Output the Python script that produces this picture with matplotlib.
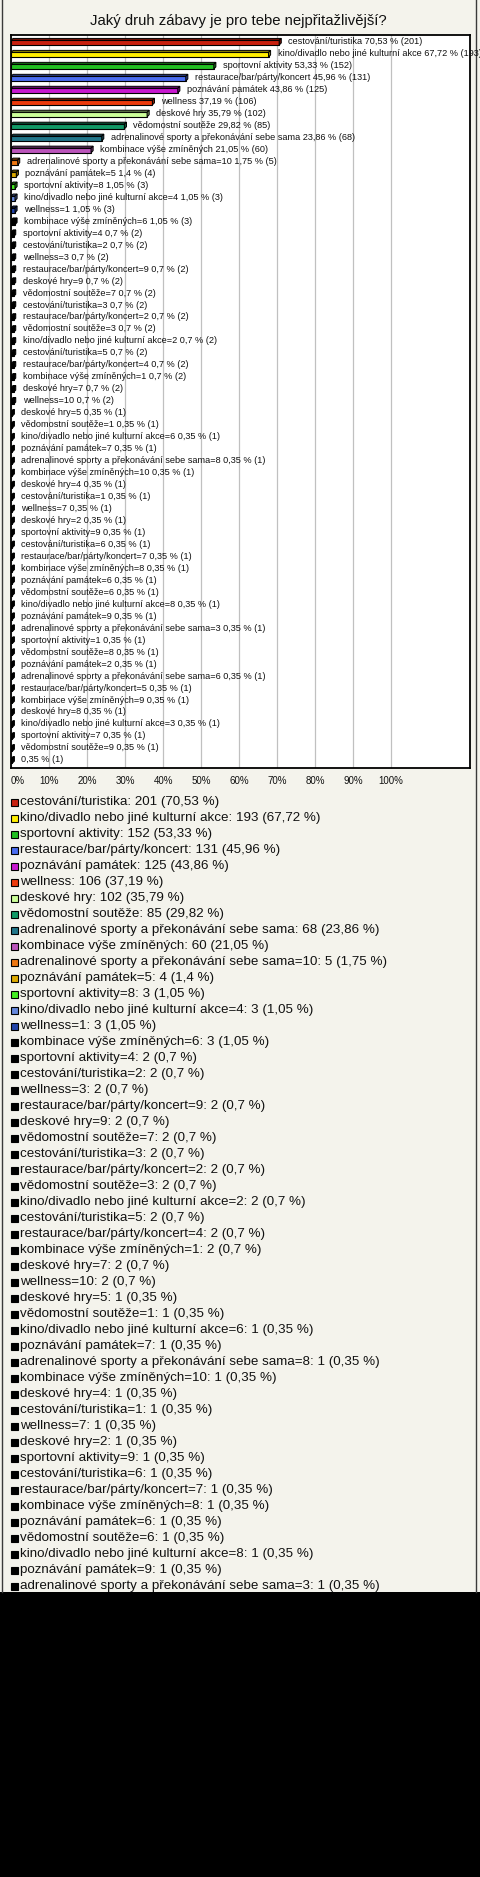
import matplotlib
matplotlib.use("Agg")
import matplotlib.pyplot as plt
from matplotlib.patches import Rectangle, Polygon
from matplotlib.colors import to_rgb

plt.rcParams['font.family'] = ['Liberation Sans', 'DejaVu Sans']

title = "Jaký druh zábavy je pro tebe nejpřitažlivější?"

names = [
    "cestování/turistika", "kino/divadlo nebo jiné kulturní akce", "sportovní aktivity",
    "restaurace/bar/párty/koncert", "poznávání památek", "wellness", "deskové hry",
    "vědomostní soutěže", "adrenalinové sporty a překonávání sebe sama", "kombinace výše zmíněných",
    "adrenalinové sporty a překonávání sebe sama=10", "poznávání památek=5", "sportovní aktivity=8",
    "kino/divadlo nebo jiné kulturní akce=4", "wellness=1", "kombinace výše zmíněných=6",
    "sportovní aktivity=4", "cestování/turistika=2", "wellness=3", "restaurace/bar/párty/koncert=9",
    "deskové hry=9", "vědomostní soutěže=7", "cestování/turistika=3", "restaurace/bar/párty/koncert=2",
    "vědomostní soutěže=3", "kino/divadlo nebo jiné kulturní akce=2", "cestování/turistika=5",
    "restaurace/bar/párty/koncert=4", "kombinace výše zmíněných=1", "deskové hry=7", "wellness=10",
    "deskové hry=5", "vědomostní soutěže=1", "kino/divadlo nebo jiné kulturní akce=6",
    "poznávání památek=7", "adrenalinové sporty a překonávání sebe sama=8", "kombinace výše zmíněných=10",
    "deskové hry=4", "cestování/turistika=1", "wellness=7", "deskové hry=2", "sportovní aktivity=9",
    "cestování/turistika=6", "restaurace/bar/párty/koncert=7", "kombinace výše zmíněných=8",
    "poznávání památek=6", "vědomostní soutěže=6", "kino/divadlo nebo jiné kulturní akce=8",
    "poznávání památek=9", "adrenalinové sporty a překonávání sebe sama=3", "sportovní aktivity=1",
    "vědomostní soutěže=8", "poznávání památek=2", "adrenalinové sporty a překonávání sebe sama=6",
    "restaurace/bar/párty/koncert=5", "kombinace výše zmíněných=9", "deskové hry=8",
    "kino/divadlo nebo jiné kulturní akce=3", "sportovní aktivity=7", "vědomostní soutěže=9", "",
]

counts = [201, 193, 152, 131, 125, 106, 102, 85, 68, 60, 5, 4, 3, 3, 3, 3] + [2] * 15 + [1] * 30

percents = [70.53, 67.72, 53.33, 45.96, 43.86, 37.19, 35.79, 29.82, 23.86, 21.05,
            1.75, 1.4, 1.05, 1.05, 1.05, 1.05] + [0.7] * 15 + [0.35] * 30

colors = ["#c8200f", "#ffee00", "#22c022", "#4a6cf0", "#c818d0", "#ec3a0c", "#ccff99",
          "#119966", "#21768a", "#bb55bb", "#ee7711", "#ddaa00", "#44ee22", "#6688dd",
          "#2244aa"] + ["#000000"] * 46

tick_values = list(range(0, 101, 10))
tick_labels = [f"{t}%" for t in tick_values]

n_legend = 50

W, H = 480, 1877
def fx(px):
    return px / W
def fy(py):
    return 1 - py / H

fig = plt.figure(figsize=(W / 100, H / 100), dpi=100, facecolor="black")

# cream panel
fig.patches.append(Rectangle((0, fy(1592)), 1, 1592 / H, transform=fig.transFigure,
                             facecolor="#f4f3ec", edgecolor="none", zorder=-10))
for xp in (1.5, 475.5):
    fig.add_artist(plt.Line2D([fx(xp), fx(xp)], [fy(1592), 1], transform=fig.transFigure,
                              color="#3a3a3a", lw=1.0, zorder=-5))

fig.text(fx(238), fy(21), title, ha="center", va="center", fontsize=10.7, color="#111111")

# main chart
ax = fig.add_axes([fx(11), fy(768), fx(470) - fx(11), (768 - 35) / H])
ax.set_facecolor("white")
px_per_pct = 3.8
ax.set_xlim(0, (470 - 11.3) / px_per_pct)
ax.set_ylim(60.68, -0.56)
for s in ax.spines.values():
    s.set_color("black")
    s.set_linewidth(1.3)
ax.set_yticks([])
ax.set_xticks(tick_values)
ax.set_xticklabels(tick_labels)
ax.tick_params(axis="x", length=0, pad=6, labelsize=7, colors="#111111")
ax.get_xticklabels()[0].set_ha("left")
ax.xaxis.grid(True, color="#c0c0c0", lw=0.9)
ax.set_axisbelow(True)

h = 0.38
dx = 0.55
d = 0.17

def darker(c, f=0.55):
    r, g, b = to_rgb(c)
    return (r * f, g * f, b * f)

for i, (v, c, nm, p, n) in enumerate(zip(percents, colors, names, percents, counts)):
    yc = i + d / 2
    top = yc - h / 2
    bot = yc + h / 2
    ax.barh(yc, v, height=h, color=c, edgecolor="black", linewidth=0.8, zorder=3)
    ax.add_patch(Polygon([(0, top), (dx, top - d), (v + dx, top - d), (v, top)],
                         closed=True, facecolor=darker(c), edgecolor="black", lw=0.7, zorder=3))
    ax.add_patch(Polygon([(v, top), (v + dx, top - d), (v + dx, bot - d), (v, bot)],
                         closed=True, facecolor=darker(c), edgecolor="black", lw=0.7, zorder=3))
    pct = f"{p:g}".replace(".", ",")
    label = f"{nm} {pct} % ({n})".strip()
    ax.annotate(label, xy=(v + dx, i), xytext=(5, 0), textcoords="offset points",
                va="center", ha="left", fontsize=6.6, color="#111111",
                annotation_clip=False, clip_on=False, zorder=4)

# legend
lax = fig.add_axes([0, fy(1592), 1, (1592 - 790) / H])
lax.set_xlim(0, W)
lax.set_ylim(1592, 790)
lax.axis("off")
for j in range(n_legend):
    yy = 802.3 + 16 * j
    lax.add_patch(Rectangle((10.5, yy - 3.5), 7, 7, facecolor=colors[j], edgecolor="black", lw=0.8))
    pct = f"{percents[j]:g}".replace(".", ",")
    lax.text(20, yy, f"{names[j]}: {counts[j]} ({pct} %)", va="center", ha="left",
             fontsize=9.6, color="#111111")

fig.savefig("out.png", dpi=100, facecolor="black")
